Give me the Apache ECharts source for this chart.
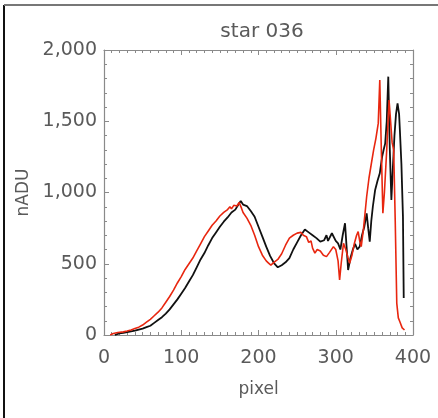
<!DOCTYPE html>
<html><head><meta charset="utf-8">
<script src="https://cdn.jsdelivr.net/npm/echarts@6/dist/echarts.min.js"></script>
<style>html,body{margin:0;padding:0;background:#fff}#c{width:438px;height:418px}</style>
</head><body><div id="c"></div>
<script>
const titleText = 'star 036';
const xName = 'pixel';
const yName = 'nADU';
const xTicks = [0, 100, 200, 300, 400];
const yTicks = [0, 500, 1000, 1500, 2000];

const blackX = [14,20,25,30,35,40,45,50,55,60,65,70,75,80,85,90,95,100,105,110,115,120,125,130,135,140,145,150,155,160,165,170,175,177,180,185,190,195,200,205,210,215,220,225,230,235,240,245,250,255,260,262,265,270,275,280,285,288,290,295,300,303,306,309,312,314,316,319,322,325,328,331,334,337,340,342,344,346,348,351,354,357,360,362,364,366,368,370,372,374,376,378,380,382,383,385,387,388];
const blackY = [0,12,15,20,25,30,38,45,55,65,85,105,125,150,180,215,250,290,330,375,420,475,530,575,630,680,720,760,795,825,860,880,925,940,915,905,870,830,760,690,620,555,505,475,490,510,540,600,650,700,740,750,720,700,680,655,665,700,660,714,660,643,600,700,784,620,456,540,597,640,600,620,700,760,854,750,655,800,900,1018,1080,1135,1250,1300,1345,1500,1813,1300,947,1181,1400,1550,1626,1550,1439,1200,830,260];

const redX = [8,12,18,25,30,35,40,45,50,55,60,65,70,75,80,85,90,95,100,105,110,115,120,125,130,135,140,145,150,155,160,163,165,168,170,172,175,178,180,185,190,195,200,205,210,213,216,220,225,230,235,240,245,250,255,258,262,265,268,270,273,276,280,284,288,292,297,300,303,305,307,310,313,316,318,321,324,327,329,331,333,336,340,343,346,349,352,355,357,359,361,363,366,369,371,373,375,377,379,381,383,386,389];
const redY = [0,10,18,22,28,35,45,55,70,90,110,135,160,190,230,270,315,365,410,460,500,540,590,640,690,730,770,800,835,860,880,900,885,910,924,905,930,890,860,820,770,700,620,560,520,505,490,510,530,570,630,680,700,715,720,700,690,650,660,610,575,600,590,560,550,580,620,600,520,386,500,643,600,540,503,560,640,700,725,660,620,750,970,1100,1200,1298,1380,1485,1790,1300,854,1000,1300,1649,1500,1350,1298,800,222,120,93,50,35];

function zip(xs, ys){ return xs.map((x,i)=>[x, ys[i]]); }

const FONT = 'DejaVu Sans';
const TXT = '#5a5a5a';
const AX = '#8a8a8a';

const chart = echarts.init(document.getElementById('c'), null, {renderer:'canvas'});
const xBase = {
  type:'value', min:xTicks[0], max:xTicks[xTicks.length-1], interval:100,
  axisLine:{show:true, onZero:false, lineStyle:{color:AX, width:1.2}},
  axisTick:{show:true, inside:true, length:5, lineStyle:{color:AX}},
  minorTick:{show:true, splitNumber:10, length:3, lineStyle:{color:AX}},
  splitLine:{show:false}
};
const yBase = {
  type:'value', min:yTicks[0], max:yTicks[yTicks.length-1], interval:500,
  axisLine:{show:true, onZero:false, lineStyle:{color:AX, width:1.2}},
  axisTick:{show:true, inside:true, length:5, lineStyle:{color:AX}},
  minorTick:{show:true, splitNumber:5, length:3, lineStyle:{color:AX}},
  splitLine:{show:false}
};
chart.setOption({
  animation:false,
  backgroundColor:'#fff',
  title:{text:titleText, left:257, top:17, textAlign:'center',
    textStyle:{fontFamily:FONT, fontSize:20, fontWeight:'normal', color:TXT}},
  grid:{left:104, right:25, top:50, bottom:83},
  xAxis:[
    Object.assign({}, xBase, {position:'bottom', name:xName, nameLocation:'middle', nameGap:46,
      nameTextStyle:{fontFamily:FONT, fontSize:17, color:TXT},
      axisLabel:{show:true, margin:14, fontFamily:FONT, fontSize:19, color:TXT}}),
    Object.assign({}, xBase, {position:'top', axisLabel:{show:false}})
  ],
  yAxis:[
    Object.assign({}, yBase, {position:'left', name:yName, nameLocation:'middle', nameGap:68, nameRotate:90,
      nameTextStyle:{fontFamily:FONT, fontSize:17, color:TXT},
      axisLabel:{show:true, margin:7, fontFamily:FONT, fontSize:19, color:TXT}}),
    Object.assign({}, yBase, {position:'right', axisLabel:{show:false}})
  ],
  series:[
    {type:'line', name:'black', data:zip(blackX, blackY), showSymbol:false, symbol:'none',
      lineStyle:{color:'#111', width:1.8}, z:2},
    {type:'line', name:'red', data:zip(redX, redY), showSymbol:false, symbol:'none',
      lineStyle:{color:'#e8260f', width:1.6}, z:3}
  ],
  graphic:[
    {type:'line', shape:{x1:4, y1:5, x2:4, y2:418}, style:{stroke:'#111', lineWidth:2}},
    {type:'line', shape:{x1:4, y1:5, x2:438, y2:5}, style:{stroke:'#777', lineWidth:2}}
  ]
});
</script></body></html>
